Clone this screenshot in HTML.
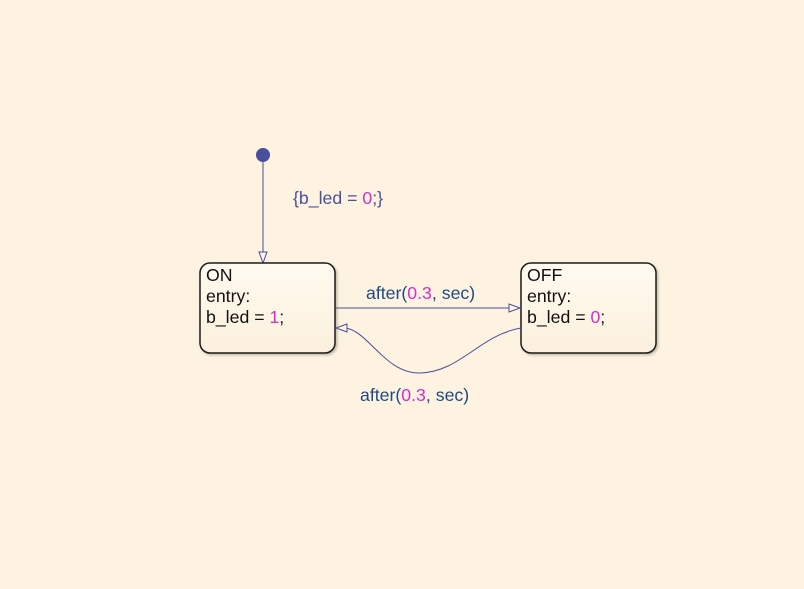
<!DOCTYPE html>
<html><head><meta charset="utf-8"><style>
html,body{margin:0;padding:0;background:#fef3e1;}
svg{display:block;}
text{font-family:"Liberation Sans",sans-serif;font-size:17.7px;}
</style></head><body>
<svg width="804" height="589" viewBox="0 0 804 589" xmlns="http://www.w3.org/2000/svg">
<defs>
<linearGradient id="g" x1="0" y1="0" x2="0" y2="1">
<stop offset="0" stop-color="#fffaf0"/><stop offset="1" stop-color="#fbf0dc"/>
</linearGradient>
<filter id="s" x="-10%" y="-10%" width="130%" height="130%"><feDropShadow dx="1.5" dy="1.5" stdDeviation="1.2" flood-color="#000" flood-opacity="0.25"/></filter>
</defs>
<rect width="804" height="589" fill="#fef3e1"/>
<circle cx="263" cy="155" r="7" fill="#4a4f9c"/>
<line x1="263" y1="162" x2="263" y2="255" stroke="#4a4f9c" stroke-width="1"/>
<polygon points="259,252 267,252 263,263" fill="#fef3e1" stroke="#4a4f9c"/>
<text x="293" y="204" fill="#4a4f9c">{b_led = <tspan fill="#d62fc8">0</tspan>;}</text>

<rect x="200" y="263" width="135" height="90" rx="10" fill="url(#g)" stroke="#1a1a1a" stroke-width="1.5" filter="url(#s)"/>
<text x="206" y="281" fill="#111">ON</text>
<text x="206" y="302" fill="#111">entry:</text>
<text x="206" y="323" fill="#111">b_led = <tspan fill="#d62fc8">1</tspan>;</text>

<rect x="521" y="263" width="135" height="90" rx="10" fill="url(#g)" stroke="#1a1a1a" stroke-width="1.5" filter="url(#s)"/>
<text x="527" y="281" fill="#111">OFF</text>
<text x="527" y="302" fill="#111">entry:</text>
<text x="527" y="323" fill="#111">b_led = <tspan fill="#d62fc8">0</tspan>;</text>

<line x1="336" y1="308" x2="512" y2="308" stroke="#4a4f9c"/>
<polygon points="509,304 509,312 520,308" fill="#fef3e1" stroke="#4a4f9c"/>
<text x="366" y="299" fill="#1f4a80">after(<tspan fill="#d62fc8">0.3</tspan>, sec)</text>

<path d="M521,328 C480,335 460,372 420,373 C385,374 368,330 345,328" fill="none" stroke="#4a4f9c"/>
<polygon points="347,324 347,332 336,328" fill="#fef3e1" stroke="#4a4f9c"/>
<text x="360" y="401" fill="#1f4a80">after(<tspan fill="#d62fc8">0.3</tspan>, sec)</text>
</svg>
</body></html>
